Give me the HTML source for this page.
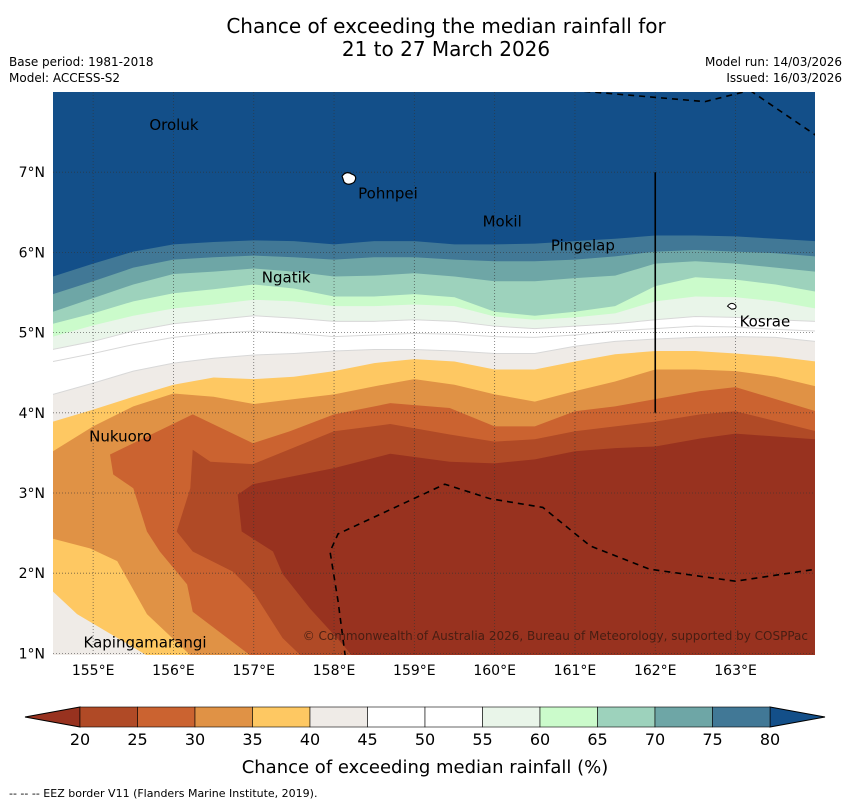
<!DOCTYPE html>
<html><head><meta charset="utf-8"><style>
body{margin:0;background:#fff;font-family:"Liberation Sans","DejaVu Sans",sans-serif;}
svg text{font-family:"DejaVu Sans","Liberation Sans",sans-serif;}
</style></head><body>
<svg id="chart" width="850" height="804" xmlns="http://www.w3.org/2000/svg">
<text x="446" y="33" font-size="20" text-anchor="middle">Chance of exceeding the median rainfall for</text>
<text x="446" y="56" font-size="20" text-anchor="middle">21 to 27 March 2026</text>
<text x="9" y="66" font-size="12">Base period: 1981-2018</text>
<text x="9" y="82" font-size="12">Model: ACCESS-S2</text>
<text x="842" y="66" font-size="12" text-anchor="end">Model run: 14/03/2026</text>
<text x="842" y="82" font-size="12" text-anchor="end">Issued: 16/03/2026</text>
<defs><clipPath id="mapclip"><rect x="53" y="92" width="762" height="563"/></clipPath></defs>
<g id="map" clip-path="url(#mapclip)"></g>
<g id="axes"></g>
<g id="cbar"></g>
<text x="425" y="773" font-size="18" text-anchor="middle">Chance of exceeding median rainfall (%)</text>
<text x="9" y="797" font-size="11">--  --  -- EEZ border V11 (Flanders Marine Institute, 2019).</text>
</svg>
<script>
const lonGrid=[154.5,155,155.5,156,156.5,157,157.5,158,158.5,159,159.5,160,160.5,161,161.5,162,162.5,163,163.5,164];
const c80=[5.70,5.86,6.01,6.10,6.13,6.15,6.14,6.10,6.14,6.14,6.10,6.10,6.11,6.14,6.17,6.21,6.21,6.20,6.17,6.14];
const c75=[5.48,5.64,5.81,5.91,5.94,5.96,5.94,5.91,5.94,5.94,5.91,5.89,5.89,5.91,5.95,6.01,6.03,6.01,5.99,5.95];
const c70=[5.26,5.43,5.60,5.73,5.76,5.80,5.76,5.70,5.71,5.74,5.70,5.64,5.64,5.68,5.71,5.86,5.89,5.86,5.81,5.76];
const c65=[5.11,5.24,5.39,5.49,5.54,5.60,5.55,5.45,5.45,5.48,5.44,5.26,5.21,5.26,5.33,5.58,5.69,5.66,5.60,5.51];
const c60=[4.95,5.09,5.21,5.30,5.35,5.41,5.39,5.33,5.33,5.35,5.33,5.20,5.16,5.19,5.24,5.39,5.45,5.44,5.39,5.30];
const c55=[4.79,4.89,5.02,5.11,5.16,5.21,5.18,5.14,5.14,5.16,5.14,5.08,5.05,5.08,5.11,5.16,5.20,5.19,5.16,5.14];
const c50=[4.64,4.74,4.85,4.94,4.99,5.02,4.99,4.95,4.97,4.99,4.98,4.95,4.94,4.97,5.02,5.05,5.08,5.07,5.04,5.02];
const c45=[4.23,4.37,4.52,4.62,4.68,4.72,4.74,4.77,4.79,4.79,4.77,4.74,4.74,4.83,4.89,4.92,4.94,4.95,4.94,4.89];
const c40=[3.89,4.04,4.20,4.35,4.44,4.42,4.45,4.52,4.62,4.67,4.64,4.54,4.54,4.64,4.73,4.77,4.77,4.74,4.70,4.64];
const c40Lower=[[155.71,0.95],[154.8,1.49],[154.5,1.77]];
const c35=[3.52,3.83,4.08,4.24,4.20,4.11,4.17,4.23,4.33,4.42,4.35,4.23,4.14,4.27,4.39,4.54,4.54,4.52,4.45,4.33];
const c35Lower=[[156.24,0.95],[155.67,1.49],[155.3,2.15],[154.96,2.31],[154.5,2.43]];
const c30=[[156.99,0.95],[156.24,1.52],[156.17,1.86],[155.83,2.27],[155.67,2.52],[155.5,3.06],[155.25,3.23],[155.21,3.48],[156.24,3.98],[156.99,3.62],[157.45,3.77],[158.0,3.98],[158.7,4.12],[159.44,4.06],[160.0,3.83],[160.5,3.83],[161,4.02],[161.5,4.08],[162,4.17],[162.56,4.27],[163,4.32],[164,4.02],[164,0.95]];
const c25=[[157.61,0.95],[157.36,1.19],[156.99,1.77],[156.74,2.02],[156.24,2.27],[156.04,2.52],[156.21,3.06],[156.24,3.54],[156.46,3.39],[156.99,3.36],[158.0,3.77],[158.7,3.86],[159.44,3.73],[160,3.64],[160.5,3.67],[161,3.77],[161.5,3.83],[162,3.89],[162.56,3.98],[163,4.02],[164,3.77],[164,0.95]];
const c20=[[158.24,0.95],[158.11,1.11],[157.7,1.56],[157.36,1.99],[157.24,2.27],[156.85,2.52],[156.8,2.98],[156.99,3.11],[158.0,3.31],[158.7,3.49],[159.44,3.39],[160,3.37],[160.5,3.42],[161,3.52],[161.5,3.56],[162,3.58],[162.56,3.68],[163,3.74],[164,3.67],[164,0.95]];
const eezTop=[[160.98,8.02],[162.62,7.88],[163.18,8.02]];
const eezTop2=[[163.18,8.02],[164,7.46]];
const eezBottom=[[158.14,0.96],[158.05,1.65],[157.95,2.27],[158.05,2.49],[159.38,3.11],[159.94,2.93],[160.6,2.82],[161.19,2.34],[161.93,2.05],[163.0,1.9],[164,2.05]];
const lonTicks=[155,156,157,158,159,160,161,162,163];
const latTicks=[1,2,3,4,5,6,7];
const levels=[20,25,30,35,40,45,50,55,60,65,70,75,80];
const colors=["#98321f","#b04a26","#cb6330","#e09245","#fec862","#efebe7","#ffffff","#ffffff","#e9f5e9","#cbfbcb","#9dd2bc","#6ea6a6","#417896","#134f89"];
const places=[["Oroluk",155.7,7.6],["Pohnpei",158.3,6.75],["Mokil",159.85,6.4],["Pingelap",160.7,6.1],["Ngatik",157.1,5.7],["Kosrae",163.05,5.15],["Nukuoro",154.95,3.72],["Kapingamarangi",154.88,1.15]];

const NS="http://www.w3.org/2000/svg";
const X=lon=>53+(lon-154.5)*80.3;
const Y=lat=>92+(8-lat)*80.2;
function el(t,a,p){const e=document.createElementNS(NS,t);for(const k in a)e.setAttribute(k,a[k]);p.appendChild(e);return e;}
const map=document.getElementById('map');
let bg=el('rect',{x:53,y:92,width:762,height:563,fill:colors[13]},map);


function gridPoly(c,lower){
  let pts=lonGrid.map((l,i)=>X(l)+','+Y(c[i]));
  pts.push(X(164.2)+','+Y(c[c.length-1]),X(164.2)+','+Y(0.9));
  if(lower){lower.forEach(p=>pts.push(X(p[0])+','+Y(p[1])));}
  else pts.push(X(154.3)+','+Y(0.9));
  pts.push(X(154.3)+','+Y(lower?lower[lower.length-1][1]:c[0]));
  return pts.join(' ');
}
function listPoly(c){return c.map(p=>X(p[0])+','+Y(p[1])).join(' ');}
const bands=[[c80,null,12],[c75,null,11],[c70,null,10],[c65,null,9],[c60,null,8],[c55,null,7],[c50,null,6],[c45,null,5],[c40,c40Lower,4],[c35,c35Lower,3]];
bands.forEach(b=>{
  const p=el('polygon',{points:gridPoly(b[0],b[1]),fill:colors[b[2]],stroke:(b[2]==6||b[2]==7||b[2]==5)?'#d8d8d8':'none','stroke-width':1},map);
  
  
});
[[c30,2],[c25,1],[c20,0]].forEach(b=>{
  const p=el('polygon',{points:listPoly(b[0]),fill:colors[b[1]]},map);
  
  
});
lonTicks.forEach(l=>{const g=el('line',{x1:X(l),x2:X(l),y1:92,y2:655,stroke:'#333','stroke-width':0.8,'stroke-dasharray':'1,2',opacity:0.7},map);

});
latTicks.forEach(l=>{const g=el('line',{x1:53,x2:815,y1:Y(l),y2:Y(l),stroke:'#333','stroke-width':0.8,'stroke-dasharray':'1,2',opacity:0.7},map);

});
[eezTop,eezTop2,eezBottom].forEach(c=>{const p=el('polyline',{points:listPoly(c),fill:'none',stroke:'#000','stroke-width':1.6,'stroke-dasharray':'6,5'},map);

});
let vl=el('line',{x1:X(162),x2:X(162),y1:Y(7),y2:Y(4),stroke:'#000','stroke-width':1.6},map);


let pn=el('path',{d:`M${X(158.1)},${Y(6.95)} q4,-6 10,-2 q6,2 2,8 q-6,4 -10,0 z`,fill:'#fff',stroke:'#000','stroke-width':1.2},map);


let ks=el('path',{d:`M${X(162.9)},${Y(5.33)} q4,-5 8,-1 q2,4 -4,4 z`,fill:'#fff',stroke:'#000','stroke-width':1},map);


places.forEach(p=>{const t=el('text',{x:X(p[1]),y:Y(p[2])+6,'font-size':15},map);t.textContent=p[0];

});
let cp=el('text',{x:808,y:640,'font-size':12,'text-anchor':'end',fill:'#3a1a10',opacity:0.85},map);
cp.textContent='© Commonwealth of Australia 2026, Bureau of Meteorology, supported by COSPPac';


const axes=document.getElementById('axes');
lonTicks.forEach(l=>{const t=el('text',{x:X(l),y:675,'font-size':14,'text-anchor':'middle'},axes);t.textContent=l+'°E';

});
latTicks.forEach(l=>{const t=el('text',{x:45,y:Y(l)+5,'font-size':14,'text-anchor':'end'},axes);t.textContent=l+'°N';

});
const cb=document.getElementById('cbar');
const cx=v=>80+(v-20)*11.5;
let la=el('polygon',{points:`25,717 80,707 80,727`,fill:colors[0],stroke:'#000','stroke-width':1},cb);


let ra=el('polygon',{points:`825,717 770,707 770,727`,fill:colors[13],stroke:'#000','stroke-width':1},cb);


for(let i=0;i<levels.length-1;i++){
  const r=el('rect',{x:cx(levels[i]),y:707,width:cx(levels[i+1])-cx(levels[i]),height:20,fill:colors[i+1],stroke:'#000','stroke-width':0.6},cb);
  
  
}
levels.forEach(v=>{const t=el('text',{x:cx(v),y:745,'font-size':16,'text-anchor':'middle'},cb);t.textContent=v;

});
</script>
</body></html>
